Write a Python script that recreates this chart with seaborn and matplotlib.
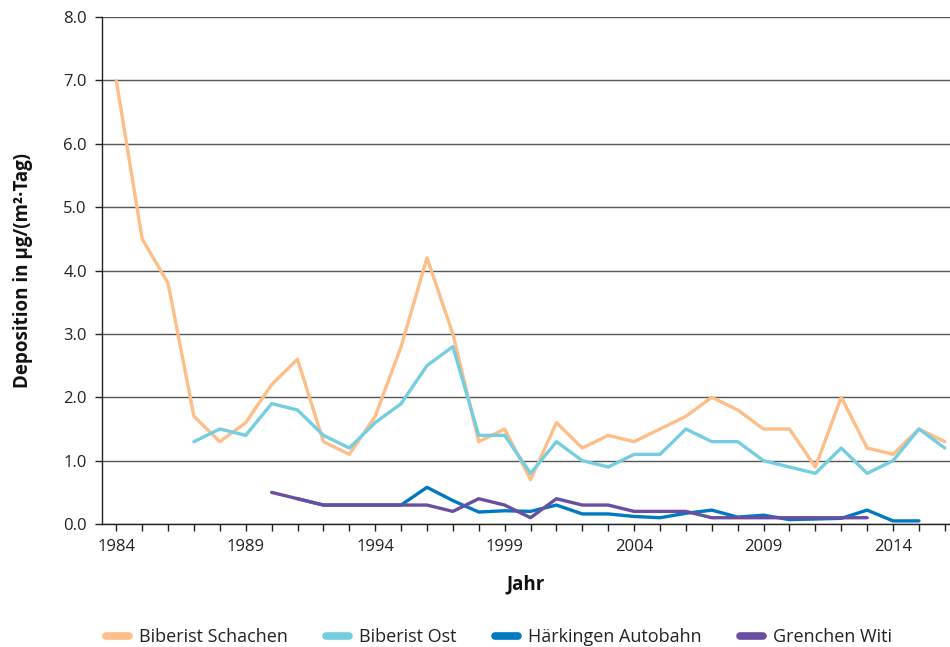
import numpy as np
import pandas as pd
import matplotlib
matplotlib.use("Agg")
import matplotlib.pyplot as plt
import seaborn as sns

jahre = list(range(1984, 2017))

biberist_schachen = [7.0, 4.5, 3.8, 1.7, 1.3, 1.6, 2.2, 2.6, 1.3, 1.1, 1.7, 2.8, 4.2, 3.0,
                     1.3, 1.5, 0.7, 1.6, 1.2, 1.4, 1.3, 1.5, 1.7, 2.0, 1.8, 1.5, 1.5, 0.9,
                     2.0, 1.2, 1.1, 1.5, 1.3]
biberist_ost = [None, None, None, 1.3, 1.5, 1.4, 1.9, 1.8, 1.4, 1.2, 1.6, 1.9, 2.5, 2.8,
                1.4, 1.4, 0.8, 1.3, 1.0, 0.9, 1.1, 1.1, 1.5, 1.3, 1.3, 1.0, 0.9, 0.8,
                1.2, 0.8, 1.0, 1.5, 1.2]
haerkingen = [None] * 7 + [0.4, 0.3, 0.3, 0.3, 0.3, 0.58, 0.37, 0.19, 0.21, 0.2, 0.3,
                           0.16, 0.16, 0.12, 0.1, 0.17, 0.22, 0.11, 0.14, 0.07, 0.08,
                           0.09, 0.22, 0.05, 0.05, None]
grenchen = [None] * 6 + [0.5, 0.4, 0.3, 0.3, 0.3, 0.3, 0.3, 0.2, 0.4, 0.3, 0.1, 0.4,
                         0.3, 0.3, 0.2, 0.2, 0.2, 0.1, 0.1, 0.1, 0.1, 0.1, 0.1, 0.1,
                         None, None, None]

stationen = ["Biberist Schachen", "Biberist Ost", "Härkingen Autobahn", "Grenchen Witi"]
farben = ["#FDBE87", "#75CEE0", "#0079C1", "#6A4E9F"]

df = pd.DataFrame({"Jahr": jahre,
                   stationen[0]: biberist_schachen,
                   stationen[1]: biberist_ost,
                   stationen[2]: haerkingen,
                   stationen[3]: grenchen})
lang = df.melt(id_vars="Jahr", var_name="Station", value_name="Wert").dropna()

sns.set_style("white")
plt.rcParams["font.family"] = ["Open Sans", "DejaVu Sans"]

fig = plt.figure(figsize=(9.5, 6.47), dpi=100)
ax = fig.add_axes([0.1074, 0.19, 0.8926, 0.7837])

sns.lineplot(data=lang, x="Jahr", y="Wert", hue="Station", hue_order=stationen,
             palette=farben, linewidth=2.4, ax=ax, legend=False)

ax.set_xlim(1983.45, 2016.2)
ax.set_ylim(0, 8)
ax.set_yticks(np.arange(0, 9, 1))
ax.set_yticklabels([f"{v:.1f}" for v in range(9)], fontsize=12, color="#222222")
ax.set_xticks(range(1984, 2017, 5))
ax.set_xticklabels([str(j) for j in range(1984, 2017, 5)], fontsize=12, color="#222222")
ax.set_xticks(range(1984, 2017), minor=True)
ax.tick_params(axis="x", which="both", direction="out", length=5, width=1,
               color="#222222", bottom=True, pad=6)
ax.tick_params(axis="y", direction="out", length=5, width=1, color="#222222",
               left=True, pad=6)
ax.grid(axis="y", color="#555555", linewidth=1)
ax.grid(axis="x", visible=False)
for s in ["top", "right"]:
    ax.spines[s].set_visible(False)
for s in ["left", "bottom"]:
    ax.spines[s].set_color("#222222")
    ax.spines[s].set_linewidth(1)
ax.set_axisbelow(True)

ax.set_xlabel("Jahr", fontsize=13.5, fontweight="bold", labelpad=14, color="#111111")
ax.set_ylabel("Deposition in µg/(m²·Tag)", fontsize=13.5, fontweight="bold",
              labelpad=22, color="#111111")

handles = [plt.Line2D([0], [0], color=c, linewidth=5.5, solid_capstyle="round")
           for c in farben]
fig.legend(handles, stationen, loc="center", bbox_to_anchor=(0.525, 0.0155),
           ncol=4, frameon=False, fontsize=13, handlelength=1.3, columnspacing=2.1,
           handletextpad=0.55, labelcolor="#222222")

fig.savefig("out.png", dpi=100)
